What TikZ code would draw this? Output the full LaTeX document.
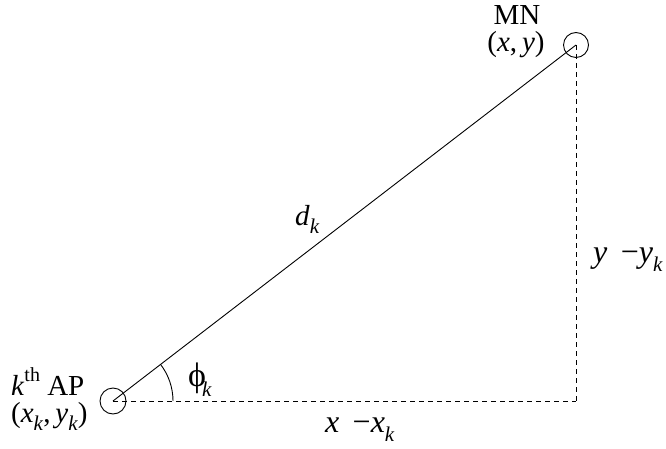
\documentclass[tikz,border=0pt]{standalone}
\usepackage{fontspec}
\setmainfont{Liberation Serif}
\usetikzlibrary{calc}
\newcommand{\sbk}{\raisebox{-0.3em}{\fontsize{21}{24}\selectfont\textit{k}}}
\begin{document}
\begin{tikzpicture}[x=1pt,y=-1pt,
  lbl/.style={inner sep=0pt,font=\fontsize{29}{32}\selectfont},
  big/.style={inner sep=0pt,font=\fontsize{32}{36}\selectfont},
  station/.style={draw,circle,minimum size=26pt,inner sep=0pt,line width=0.9pt},
  guide/.style={dash pattern=on 5pt off 4pt,line width=0.9pt},
  link/.style={line width=0.9pt}]
\useasboundingbox (0,0) rectangle (666,449);
\node[station] (ap) at (113,401) {};
\node[station,minimum size=25pt] (mn) at (576,45) {};
\coordinate (c) at (576,401);
\draw[link] (ap.center) -- (mn.center);
\draw[guide] (ap.center) -- (c);
\draw[guide] (mn.center) -- (c);
\draw[link] ($(ap.center)+(60,0)$) arc[start angle=0,end angle=-37.6,radius=60];
\node[lbl,anchor=base] (mnl) at (517,25) {MN};
\node[lbl,anchor=base] (mnc) at (516,52) {(\textit{x},\,\textit{y})};
\node[lbl,anchor=base west] (apl) at (11,395) {\textit{k}\raisebox{0.45em}{\fontsize{20}{22}\selectfont th} AP};
\node[lbl,anchor=base west] (apc) at (11,422) {(\textit{x}\sbk,\,\textit{y}\sbk)};
\node[lbl,anchor=base west,font=\fontsize{34}{36}\selectfont] (phi) at (188,386) {ϕ\kern-0.12em\sbk};
\node[lbl,anchor=base west] (dl) at (295,225) {\textit{d}\sbk};
\node[big,anchor=base west] (yl) at (593,262) {\textit{y}\, −\textit{y}\sbk};
\node[big,anchor=base west] (xl) at (325,432) {\textit{x}\, −\textit{x}\sbk};
\end{tikzpicture}
\end{document}
